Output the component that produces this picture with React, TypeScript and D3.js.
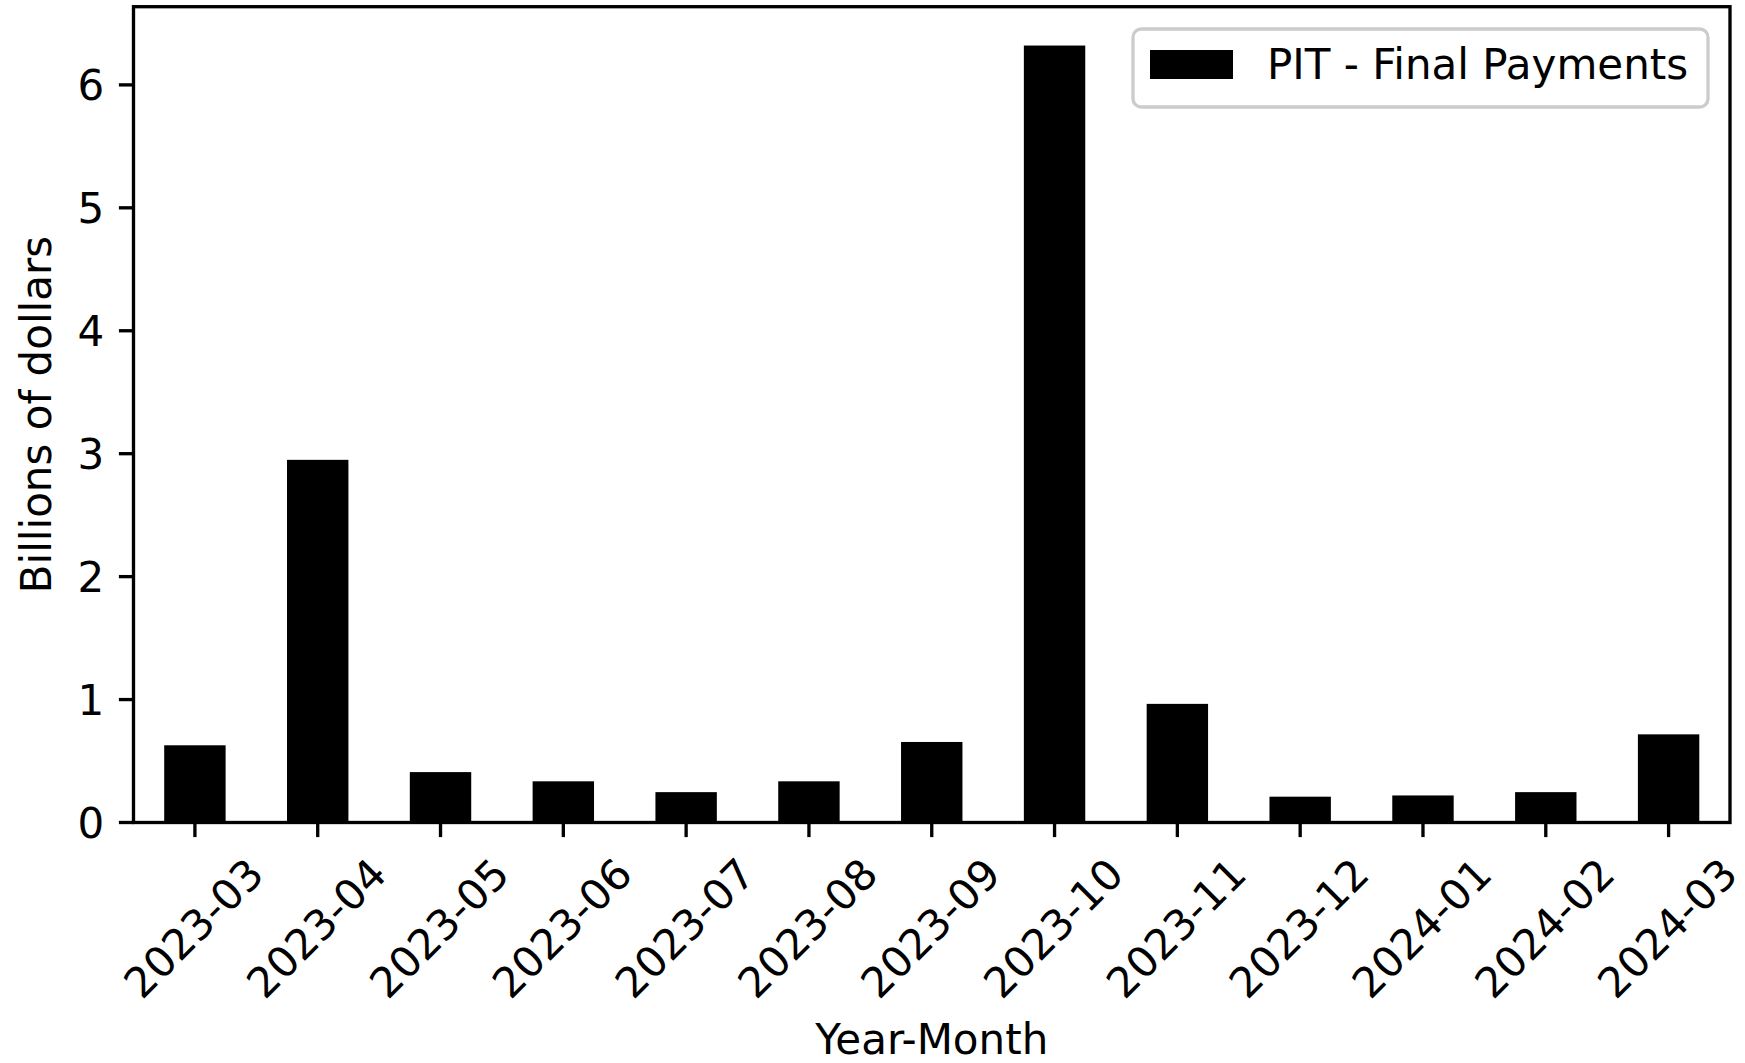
import React from "react";
import * as d3 from "d3";

const categories = [
  "2023-03", "2023-04", "2023-05", "2023-06", "2023-07", "2023-08", "2023-09",
  "2023-10", "2023-11", "2023-12", "2024-01", "2024-02", "2024-03",
];
const finalPayments = [0.628, 2.95, 0.41, 0.335, 0.247, 0.335, 0.655, 6.32, 0.965, 0.21, 0.22, 0.247, 0.717];
const yTicks = [0, 1, 2, 3, 4, 5, 6];
const seriesName = "PIT - Final Payments";
const xTitle = "Year-Month";
const yTitle = "Billions of dollars";

const W = 1745;
const H = 1063;
const left = 133.5;
const right = 1730;
const top = 6.7;
const bottom = 822.5;
const FS = 42;
const FONT = "'DejaVu Sans', sans-serif";
const TICK = 14.6;
const LW = 3.33;

export default function App() {
  const yMax = d3.max(finalPayments)! * 1.05;
  const y = d3.scaleLinear().domain([0, yMax]).range([bottom, top]);
  const x = d3
    .scaleBand<string>()
    .domain(categories)
    .range([left, right])
    .paddingInner(0.5)
    .paddingOuter(0.25);
  const bw = x.bandwidth();

  return (
    <svg
      width={W}
      height={H}
      style={{ position: "absolute", left: 0, top: 0, background: "#fff" }}
      fontFamily={FONT}
    >
      <rect x={0} y={0} width={W} height={H} fill="#fff" />
      {categories.map((c, i) => (
        <rect
          key={c}
          x={x(c)!}
          y={y(finalPayments[i])}
          width={bw}
          height={y(0) - y(finalPayments[i])}
          fill="#000"
        />
      ))}
      {yTicks.map((t) => (
        <g key={t}>
          <line x1={left - TICK} x2={left} y1={y(t)} y2={y(t)} stroke="#000" strokeWidth={LW} />
          <text
            x={left - TICK - 14.6}
            y={y(t)}
            dy="0.36em"
            textAnchor="end"
            fontSize={FS}
            fill="#000"
          >
            {t}
          </text>
        </g>
      ))}
      {categories.map((c) => {
        const cx = x(c)! + bw / 2;
        return (
          <g key={c}>
            <line x1={cx} x2={cx} y1={bottom} y2={bottom + TICK} stroke="#000" strokeWidth={LW} />
            <text
              transform={`translate(${cx - 1.5},${928}) rotate(-45)`}
              dy="0.36em"
              textAnchor="middle"
              fontSize={FS}
              fill="#000"
            >
              {c}
            </text>
          </g>
        );
      })}
      <rect
        x={left}
        y={top}
        width={right - left}
        height={bottom - top}
        fill="none"
        stroke="#000"
        strokeWidth={LW}
      />
      <text x={(left + right) / 2} y={1054} textAnchor="middle" fontSize={FS} fill="#000">
        {xTitle}
      </text>
      <text
        transform={`translate(51,${(top + bottom) / 2}) rotate(-90)`}
        textAnchor="middle"
        fontSize={FS}
        fill="#000"
      >
        {yTitle}
      </text>
      <g>
        <rect
          x={1133}
          y={29}
          width={575}
          height={78}
          rx={8.3}
          ry={8.3}
          fill="#fff"
          fillOpacity={0.8}
          stroke="#cccccc"
          strokeWidth={3.3}
        />
        <rect x={1150} y={50} width={83} height={29} fill="#000" />
        <text x={1267} y={79} fontSize={FS} fill="#000">
          {seriesName}
        </text>
      </g>
    </svg>
  );
}
